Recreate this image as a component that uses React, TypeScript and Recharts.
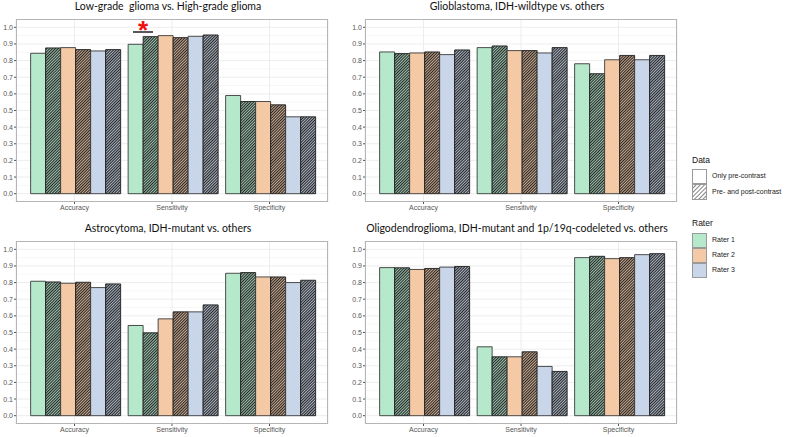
import React from "react";
import { BarChart, Bar, XAxis, YAxis, CartesianGrid } from "recharts";

const metrics = ["Accuracy", "Sensitivity", "Specificity"];
const seriesKeys = ["r1pre", "r1post", "r2pre", "r2post", "r3pre", "r3post"];
const raterNames = ["Rater 1", "Rater 2", "Rater 3"];
const raterColors = ["#B6E9CC", "#F3C9A6", "#C9D5E8"];
const dataNames = ["Only pre-contrast", "Pre- and post-contrast"];
const yTicks = [0, 0.1, 0.2, 0.3, 0.4, 0.5, 0.6, 0.7, 0.8, 0.9, 1.0];
const yMinor = [0.05, 0.15, 0.25, 0.35, 0.45, 0.55, 0.65, 0.75, 0.85, 0.95];

// rows follow seriesKeys, columns follow metrics
const lggScores = [
  [0.844, 0.898, 0.59],
  [0.876, 0.944, 0.554],
  [0.878, 0.95, 0.554],
  [0.866, 0.938, 0.534],
  [0.858, 0.946, 0.462],
  [0.866, 0.954, 0.462],
];
const gbmScores = [
  [0.852, 0.878, 0.781],
  [0.842, 0.888, 0.721],
  [0.846, 0.86, 0.805],
  [0.852, 0.86, 0.831],
  [0.836, 0.846, 0.805],
  [0.864, 0.878, 0.831],
];
const astroScores = [
  [0.808, 0.542, 0.856],
  [0.804, 0.498, 0.86],
  [0.796, 0.582, 0.834],
  [0.802, 0.624, 0.834],
  [0.77, 0.624, 0.8],
  [0.792, 0.666, 0.814],
];
const oligoScores = [
  [0.89, 0.414, 0.95],
  [0.889, 0.354, 0.958],
  [0.879, 0.354, 0.944],
  [0.885, 0.384, 0.95],
  [0.893, 0.296, 0.968],
  [0.897, 0.266, 0.974],
];

const CHART_W = 330;
const CHART_H = 204;
const MARGIN = { top: 9, right: 2, bottom: 0, left: 0 };
const Y_W = 16;
const tickFont = { fontSize: 7, fill: "#555", fontFamily: "'Liberation Sans', Arial, sans-serif" };

function toRows(scores: number[][]) {
  return metrics.map((m, i) => {
    const row: any = { metric: m };
    seriesKeys.forEach((k, s) => (row[k] = scores[s][i]));
    return row;
  });
}

function Panel({ id, title, scores, left, top, star }: any) {
  const rows = toRows(scores);
  const plotLeft = left + Y_W;
  const plotTop = top + MARGIN.top;
  const plotW = CHART_W - Y_W - MARGIN.right;
  const plotH = CHART_H - MARGIN.top - 12;
  return (
    <>
      <div
        style={{
          position: "absolute",
          left: plotLeft - 4,
          top: top - 10,
          width: plotW,
          textAlign: "center",
          fontFamily: "Lato, 'Open Sans', sans-serif",
          fontSize: 10.5,
          color: "#111",
          whiteSpace: "pre",
        }}
      >
        {title}
      </div>
      <div style={{ position: "absolute", left, top }}>
        <BarChart width={CHART_W} height={CHART_H} data={rows} margin={MARGIN} barCategoryGap="5%" barGap={0}>
          <defs>
            {raterColors.map((c, i) => (
              <pattern
                key={i}
                id={`${id}-hatch-${i}`}
                width={2}
                height={2}
                patternUnits="userSpaceOnUse"
                patternTransform="rotate(45)"
              >
                <rect width={2} height={2} fill={c} />
                <line x1={0.6} y1={0} x2={0.6} y2={2} stroke="#262626" strokeWidth={1.2} />
              </pattern>
            ))}
          </defs>
          <CartesianGrid horizontalValues={yMinor} vertical={false} stroke="#F2F2F2" strokeWidth={0.6} />
          <CartesianGrid horizontalValues={yTicks} stroke="#EBEBEB" strokeWidth={0.9} />
          <XAxis
            dataKey="metric"
            height={12}
            padding={{ left: plotW * 0.03125, right: plotW * 0.03125 }}
            axisLine={false}
            tickLine={{ stroke: "#555" }}
            tickSize={2}
            tickMargin={1}
            tick={tickFont}
            interval={0}
          />
          <YAxis
            width={Y_W}
            domain={[-0.05, 1.05]}
            ticks={yTicks}
            tickFormatter={(v: number) => v.toFixed(1)}
            axisLine={false}
            tickLine={{ stroke: "#555" }}
            tickSize={2}
            tickMargin={1}
            tick={tickFont}
            interval={0}
          />
          {seriesKeys.map((k, s) => {
            const rater = Math.floor(s / 2);
            const post = s % 2 === 1;
            return (
              <Bar
                key={k}
                dataKey={k}
                fill={post ? `url(#${id}-hatch-${rater})` : raterColors[rater]}
                stroke={post ? "#1e1e1e" : "#3a3a3a"}
                strokeWidth={0.9}
                isAnimationActive={false}
              />
            );
          })}
        </BarChart>
      </div>
      <div
        style={{
          position: "absolute",
          left: plotLeft,
          top: plotTop,
          width: plotW,
          height: plotH,
          border: "1px solid #b5b5b5",
          boxSizing: "border-box",
          pointerEvents: "none",
        }}
      />
      {star && (
        <svg style={{ position: "absolute", left: 123, top: 8, overflow: "visible" }} width={40} height={34}>
          <line x1={10} y1={24} x2={30} y2={24} stroke="#111" strokeWidth={1.4} />
          <text x={20} y={31} textAnchor="middle" fill="#F01010" fontSize={26} fontWeight="bold" fontFamily="'Liberation Sans', Arial">
            *
          </text>
        </svg>
      )}
    </>
  );
}

function Legend() {
  const label = { position: "absolute" as const, left: 712, fontSize: 7, color: "#222", fontFamily: "'Liberation Sans', Arial, sans-serif" };
  const title = { position: "absolute" as const, left: 692, fontSize: 8.5, color: "#111", fontFamily: "'Liberation Sans', Arial, sans-serif" };
  const box = { position: "absolute" as const, left: 692, width: 15, height: 15, boxSizing: "border-box" as const, border: "1px solid #9a9a9a" };
  return (
    <>
      <div style={{ ...title, top: 155 }}>Data</div>
      <div style={{ ...box, top: 169, background: "#fff" }} />
      <svg style={{ position: "absolute", left: 692, top: 184 }} width={15} height={16}>
        <defs>
          <pattern id="legend-hatch" width={3} height={3} patternUnits="userSpaceOnUse" patternTransform="rotate(45)">
            <line x1={0} y1={0} x2={0} y2={3} stroke="#333" strokeWidth={1.2} />
          </pattern>
        </defs>
        <rect x={0.5} y={0.5} width={14} height={15} fill="url(#legend-hatch)" stroke="#9a9a9a" />
      </svg>
      <div style={{ ...label, top: 172 }}>{dataNames[0]}</div>
      <div style={{ ...label, top: 188 }}>{dataNames[1]}</div>

      <div style={{ ...title, top: 218 }}>Rater</div>
      {raterNames.map((r, i) => (
        <React.Fragment key={r}>
          <div style={{ ...box, top: 233 + i * 15, background: raterColors[i] }} />
          <div style={{ ...label, top: 236 + i * 15 }}>{r}</div>
        </React.Fragment>
      ))}
    </>
  );
}

export default function App() {
  return (
    <div style={{ position: "absolute", left: 0, top: 0, width: 790, height: 437, background: "#fff", overflow: "hidden" }}>
      <Panel id="lgg" title={"Low-grade  glioma vs. High-grade glioma"} scores={lggScores} left={0} top={10} star />
      <Panel id="gbm" title="Glioblastoma, IDH-wildtype vs. others" scores={gbmScores} left={349} top={10} />
      <Panel id="astro" title="Astrocytoma, IDH-mutant vs. others" scores={astroScores} left={0} top={232} />
      <Panel
        id="oligo"
        title="Oligodendroglioma, IDH-mutant and 1p/19q-codeleted vs. others"
        scores={oligoScores}
        left={349}
        top={232}
      />
      <Legend />
    </div>
  );
}
